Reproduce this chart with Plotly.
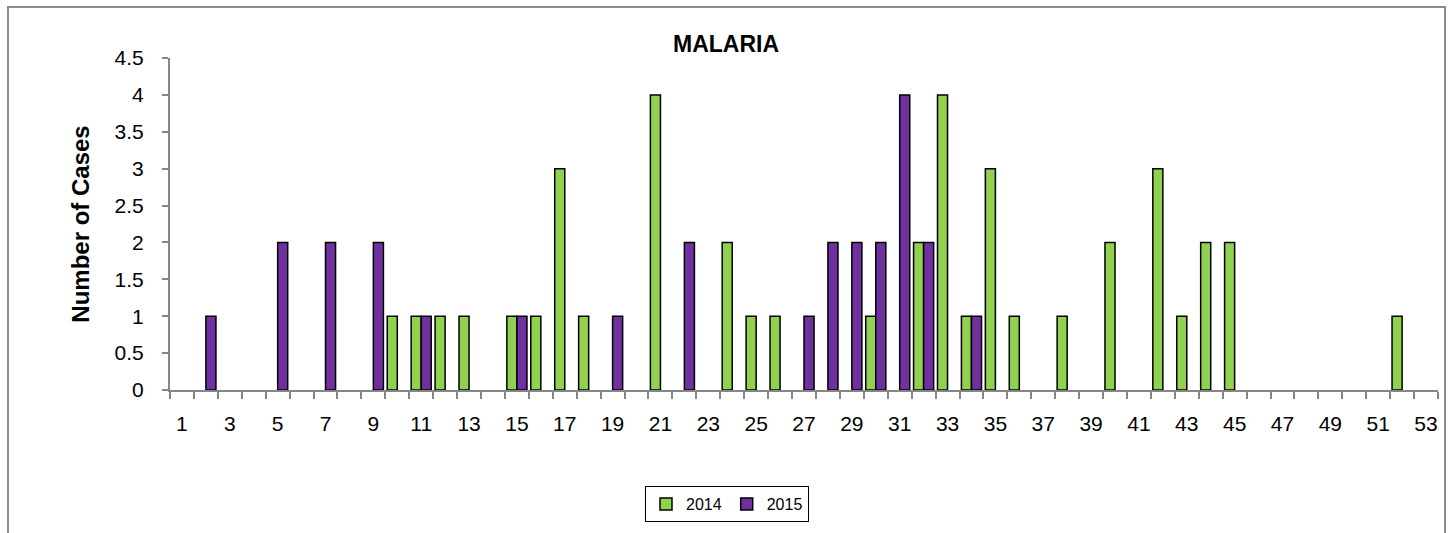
import plotly.graph_objects as go

weeks = list(range(1, 54))
cases_2014 = {10: 1, 11: 1, 12: 1, 13: 1, 15: 1, 16: 1, 17: 3, 18: 1, 21: 4, 24: 2,
              25: 1, 26: 1, 30: 1, 32: 2, 33: 4, 34: 1, 35: 3, 36: 1, 38: 1, 40: 2,
              42: 3, 43: 1, 44: 2, 45: 2, 52: 1}
cases_2015 = {2: 1, 5: 2, 7: 2, 9: 2, 11: 1, 15: 1, 19: 1, 22: 2, 27: 1, 28: 2,
              29: 2, 30: 2, 31: 4, 32: 2, 34: 1}
# weeks without cases are blank cells in the source sheet
values_2014 = [cases_2014.get(w) for w in weeks]
values_2015 = [cases_2015.get(w) for w in weeks]
x_tick_labels = [str(w) for w in range(1, 54, 2)]
y_ticks = [0, 0.5, 1, 1.5, 2, 2.5, 3, 3.5, 4, 4.5]

FONT = "Arial, Liberation Sans, sans-serif"
GREEN = "#92D050"
PURPLE = "#7030A0"
AXIS = "#868686"

W, H = 1455, 533
L, R, T, B = 170, 17, 58, 143
PW, PH = W - L - R, H - T - B

fig = go.Figure()
fig.add_trace(go.Bar(x=weeks, y=values_2014, name="2014",
                     marker=dict(color=GREEN, line=dict(color="black", width=1.5))))
fig.add_trace(go.Bar(x=weeks, y=values_2015, name="2015",
                     marker=dict(color=PURPLE, line=dict(color="black", width=1.5))))

fig.update_layout(
    width=W, height=H,
    margin=dict(l=L, r=R, t=T, b=B, autoexpand=False),
    paper_bgcolor="white", plot_bgcolor="white",
    barmode="group", bargap=0.16, bargroupgap=0,
    font=dict(family=FONT, color="black"),
    title=dict(text="<b>MALARIA</b>", x=726 / W, xanchor="center", y=1 - 44 / H, yanchor="middle",
               font=dict(size=23, family=FONT, color="black")),
    showlegend=True,
    legend=dict(orientation="h", x=(727 - L) / PW, xanchor="center", y=(H - B - 504) / PH, yanchor="middle",
                bordercolor="black", borderwidth=1, font=dict(size=16, family=FONT),
                itemwidth=30, tracegroupgap=0),
    xaxis=dict(range=[0.5, 53.5], tickmode="array", tickvals=list(range(1, 54, 2)), ticktext=x_tick_labels,
               ticks="", showgrid=False, zeroline=False, showline=True, linecolor=AXIS, linewidth=2,
               tickfont=dict(size=21, family=FONT, color="black"), ticklabelstandoff=14, automargin=False,
               minor=dict(ticks="outside", tick0=0.5, dtick=1, ticklen=7, tickcolor=AXIS, tickwidth=2,
                          showgrid=False)),
    yaxis=dict(range=[0, 4.5], tickmode="array", tickvals=y_ticks, ticktext=[f"{v:g}" for v in y_ticks],
               ticks="outside", ticklen=6, tickcolor=AXIS, tickwidth=2, showgrid=False, zeroline=False,
               showline=True, linecolor=AXIS, linewidth=2, automargin=False, ticklabelstandoff=14,
               tickfont=dict(size=21, family=FONT, color="black"),
               title=dict(text="<b>Number of Cases</b>", font=dict(size=24, family=FONT, color="black"),
                          standoff=18)),
)

fig.add_shape(type="rect", xref="paper", yref="paper",
              x0=(8 - L) / PW, x1=(1445 - L) / PW, y0=(H - B - 560) / PH, y1=(H - B - 7) / PH,
              line=dict(color="#8c8c8c", width=2), fillcolor="rgba(0,0,0,0)", layer="below")

fig.write_html("out.html", config={"displayModeBar": False},
               post_script="document.body.style.margin='0';document.body.style.padding='0';")
